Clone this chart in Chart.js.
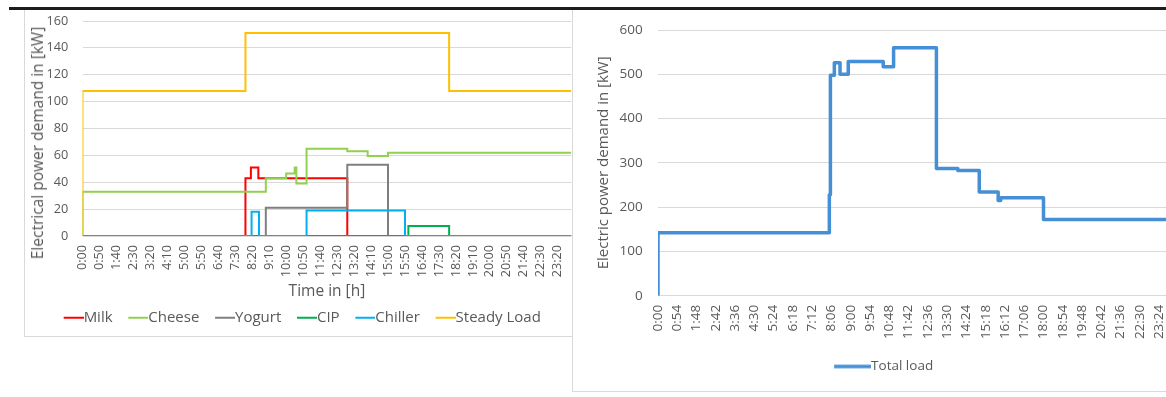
<!DOCTYPE html>
<html>
<head>
<meta charset="utf-8">
<script src="https://cdn.jsdelivr.net/npm/chart.js@4.4.1/dist/chart.umd.min.js"></script>
<style>
  html, body { margin: 0; padding: 0; background: #fff; }
  body { width: 1166px; height: 397px; overflow: hidden; position: relative; font-family: 'Open Sans', sans-serif; }
  .frame { position: absolute; border: 1px solid #d9d9d9; box-sizing: border-box; }
  #leftFrame { left: 24px; top: 9px; width: 549px; height: 328px; }
  #rightFrame { left: 572px; top: 9px; width: 700px; height: 383px; }
  .rule { position: absolute; left: 9px; top: 7px; width: 1157px; height: 3px; background: #1c1c1c; }
  canvas { position: absolute; }
  #leftCanvas { left: 25px; top: 10px; }
  #rightCanvas { left: 573px; top: 10px; }
  .ytitle { position: absolute; transform: translate(-50%, -50%) rotate(-90deg); white-space: nowrap; color: #595959; }
  #leftYTitle { left: 36.5px; top: 142.5px; font-size: 15.5px; }
</style>
</head>
<body>
<div class="frame" id="leftFrame"></div>
<div class="frame" id="rightFrame"></div>
<div class="rule"></div>
<canvas id="leftCanvas" width="548" height="326"></canvas>
<div class="ytitle" id="leftYTitle">Electrical power demand in [kW]</div>
<canvas id="rightCanvas" width="620" height="381"></canvas>

<script>
// Axis tick labels (time of day)
const leftTickLabels = ['0:00','0:50','1:40','2:30','3:20','4:10','5:00','5:50','6:40','7:30',
  '8:20','9:10','10:00','10:50','11:40','12:30','13:20','14:10','15:00','15:50','16:40',
  '17:30','18:20','19:10','20:00','20:50','21:40','22:30','23:20'];
const rightTickLabels = ['0:00','0:54','1:48','2:42','3:36','4:30','5:24','6:18','7:12','8:06',
  '9:00','9:54','10:48','11:42','12:36','13:30','14:24','15:18','16:12','17:06','18:00',
  '18:54','19:48','20:42','21:36','22:30','23:24'];

// Process loads: time at which each level starts, and the level in kW
const milkTimes    = ['0:00','8:00','8:16','8:38','13:00','24:00'];
const milkKW       = [0, 43, 51, 43, 0, 0];
const cheeseTimes  = ['0:00','0:00','9:00','10:00','10:25','10:30','11:00','13:00','14:00','15:00','24:00'];
const cheeseKW     = [0, 33, 43, 46.5, 51, 39, 65, 63, 59.5, 62, 62];
const yogurtTimes  = ['0:00','9:00','13:00','15:00','24:00'];
const yogurtKW     = [0, 21, 53, 0, 0];
const cipTimes     = ['0:00','16:00','18:00','24:00'];
const cipKW        = [0, 7.5, 0, 0];
const chillerTimes = ['0:00','8:18','8:40','11:00','15:50','24:00'];
const chillerKW    = [0, 18, 0, 19, 0, 0];
const steadyTimes  = ['0:00','0:00','8:00','18:00','24:00'];
const steadyKW     = [0, 108, 151, 108, 108];

// Total plant load
const totalTimes = ['0:00','0:00','8:00','8:03','8:14','8:30','8:53','10:31','11:00','13:00',
  '14:00','15:00','15:53','16:00','18:00','24:00'];
const totalKW    = [0, 142, 228, 498, 526, 500, 529, 517, 560, 287, 283, 234, 215, 221, 172, 172];

const seriesNames  = ['Milk', 'Cheese', 'Yogurt', 'CIP', 'Chiller', 'Steady Load'];
const seriesColors = ['#FF0000', '#92D050', '#7F7F7F', '#00B050', '#00B0F0', '#FFC000'];
const seriesTimes  = [milkTimes, cheeseTimes, yogurtTimes, cipTimes, chillerTimes, steadyTimes];
const seriesKW     = [milkKW, cheeseKW, yogurtKW, cipKW, chillerKW, steadyKW];

const TEXT = '#595959';
const GRID = '#d9d9d9';
Chart.defaults.font.family = "'Open Sans', sans-serif";
Chart.defaults.color = TEXT;

const toMin = s => { const [h, m] = s.split(':').map(Number); return h * 60 + m; };
const fmt = v => Math.floor(v / 60) + ':' + String(v % 60).padStart(2, '0');
const steps = (times, kw) => times.map((t, i) => ({ x: toMin(t), y: kw[i] }));

// Legend key: a short line whose right end meets the label text
function legendKey(color, lineWidth, lineLen, boxW, fontSize) {
  const w = Math.round(boxW + fontSize);
  const c = document.createElement('canvas');
  c.width = w; c.height = 8;
  const g = c.getContext('2d');
  g.strokeStyle = color; g.lineWidth = lineWidth;
  g.beginPath(); g.moveTo(w - lineLen, 4); g.lineTo(w, 4); g.stroke();
  return c;
}

function legendOptions(keys, size, pad, boxW) {
  return {
    position: 'bottom',
    labels: {
      usePointStyle: true,
      pointStyleWidth: boxW,
      boxHeight: size,
      padding: pad,
      color: TEXT,
      font: { size: size },
      sort: (a, b) => a.datasetIndex - b.datasetIndex,
      generateLabels: chart => Chart.defaults.plugins.legend.labels.generateLabels(chart)
        .map(item => Object.assign(item, { pointStyle: keys[item.datasetIndex] }))
    }
  };
}

// Invisible tick marks keep the labels clear of the plot edge
const hiddenTicks = len => ({ drawTicks: true, tickLength: len, tickColor: 'rgba(0,0,0,0)' });

// ---- Left chart: loads per process ----
const leftKeys = seriesColors.map(c => legendKey(c, 2, 20, 19, 15));
new Chart(document.getElementById('leftCanvas'), {
  type: 'line',
  data: {
    datasets: seriesNames.map((name, i) => ({
      label: name,
      data: steps(seriesTimes[i], seriesKW[i]),
      borderColor: seriesColors[i],
      backgroundColor: seriesColors[i],
      borderWidth: 2,
      stepped: true,
      pointRadius: 0,
      order: -i
    }))
  },
  options: {
    responsive: false,
    animation: false,
    events: [],
    layout: { padding: { left: 0, right: 0, top: 11, bottom: 0.8 } },
    plugins: { legend: legendOptions(leftKeys, 15, 9.2, 19), tooltip: { enabled: false } },
    scales: {
      x: {
        type: 'linear', min: 0, max: 1440,
        afterBuildTicks: s => { s.ticks = leftTickLabels.map(l => ({ value: toMin(l) })); },
        afterFit: s => { s.height = 65; },
        ticks: { callback: v => fmt(v), autoSkip: false, minRotation: 90, maxRotation: 90, padding: 0, font: { size: 12.7 } },
        grid: Object.assign({ color: 'rgba(0,0,0,0)', drawOnChartArea: false }, hiddenTicks(9)),
        border: { display: false },
        title: { display: true, text: 'Time in [h]', font: { size: 15.5 }, padding: 0 }
      },
      y: {
        min: 0, max: 160,
        afterFit: s => { s.width = 57.5; },
        ticks: { stepSize: 20, padding: 0, font: { size: 12.7 } },
        grid: Object.assign({ color: GRID }, hiddenTicks(14.2)),
        border: { display: false }
      }
    }
  }
});

// ---- Right chart: total load ----
const totalColor = '#448FD6';
const rightKeys = [legendKey(totalColor, 3.5, 37, 52.5, 13.5)];
new Chart(document.getElementById('rightCanvas'), {
  type: 'line',
  data: {
    datasets: [{
      label: 'Total load',
      data: steps(totalTimes, totalKW),
      borderColor: totalColor,
      backgroundColor: totalColor,
      borderWidth: 3.5,
      borderJoinStyle: 'round',
      stepped: true,
      pointRadius: 0
    }]
  },
  options: {
    responsive: false,
    animation: false,
    events: [],
    layout: { padding: { left: 0, right: 21, top: 20, bottom: 7.8 } },
    plugins: { legend: legendOptions(rightKeys, 13.5, 9, 52.5), tooltip: { enabled: false } },
    scales: {
      x: {
        type: 'linear', min: 0, max: 1440,
        afterBuildTicks: s => { s.ticks = rightTickLabels.map(l => ({ value: toMin(l) })); },
        afterFit: s => { s.height = 55; },
        ticks: { callback: v => fmt(v), autoSkip: false, minRotation: 90, maxRotation: 90, padding: 0, font: { size: 13.5 } },
        grid: Object.assign({ color: 'rgba(0,0,0,0)', drawOnChartArea: false }, hiddenTicks(9)),
        border: { display: true, color: GRID }
      },
      y: {
        min: 0, max: 600,
        afterFit: s => { s.width = 85; },
        ticks: { stepSize: 100, padding: 0, font: { size: 13.5 } },
        grid: Object.assign({ color: GRID }, hiddenTicks(15.3)),
        border: { display: false },
        title: { display: true, text: 'Electric power demand in [kW]', font: { size: 15 }, padding: { top: 21.7, bottom: 0 } }
      }
    }
  }
});
</script>
</body>
</html>
